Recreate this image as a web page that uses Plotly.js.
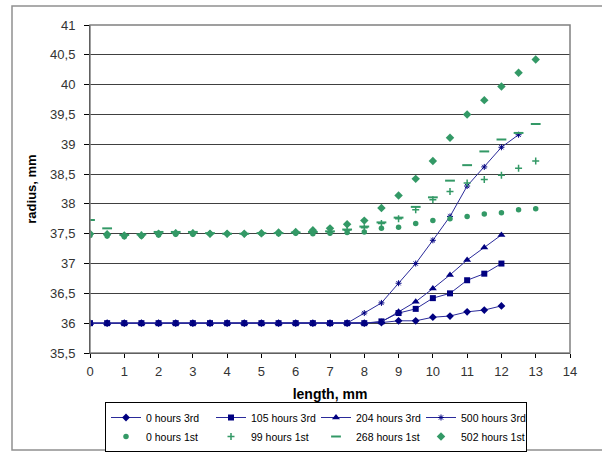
<!DOCTYPE html>
<html><head><meta charset="utf-8">
<script src="https://cdn.plot.ly/plotly-3.0.1.min.js"></script>
<style>html,body{margin:0;padding:0;background:#fff}</style>
</head><body><div id="chart" style="width:602px;height:453px"></div>
<script>
// x positions (mm)
const x3rd = [0,0.5,1,1.5,2,2.5,3,3.5,4,4.5,5,5.5,6,6.5,7,7.5,8,8.5,9,9.5,10,10.5,11,11.5,12];
const x500 = [0,0.5,1,1.5,2,2.5,3,3.5,4,4.5,5,5.5,6,6.5,7,7.5,8,8.5,9,9.5,10,10.5,11,11.5,12,12.5];
const x1st = [0,0.5,1,1.5,2,2.5,3,3.5,4,4.5,5,5.5,6,6.5,7,7.5,8,8.5,9,9.5,10,10.5,11,11.5,12,12.5,13];

// 3rd series (radius, mm)
const h0_3rd   = [36,36,36,36,36,36,36,36,36,36,36,36,36,36,36,36,36,36.01,36.04,36.04,36.1,36.12,36.19,36.22,36.29];
const h105_3rd = [36,36,36,36,36,36,36,36,36,36,36,36,36,36,36,36,36,36.03,36.17,36.24,36.42,36.5,36.72,36.83,37.0];
const h204_3rd = [36,36,36,36,36,36,36,36,36,36,36,36,36,36,36,36,36,36.02,36.19,36.36,36.58,36.81,37.06,37.27,37.48];
const h500_3rd = [36,36,36,36,36,36,36,36,36,36,36,36,36,36,36,36,36.17,36.34,36.67,37.0,37.39,37.79,38.3,38.62,38.95,39.16];

// 1st series (radius, mm)
const h0_1st   = [37.47,37.46,37.45,37.46,37.48,37.49,37.49,37.5,37.5,37.5,37.5,37.5,37.51,37.5,37.51,37.52,37.53,37.59,37.61,37.67,37.72,37.75,37.79,37.83,37.85,37.9,37.92];
const h99_1st  = [37.49,37.48,37.47,37.48,37.5,37.51,37.51,37.5,37.5,37.5,37.5,37.51,37.52,37.52,37.53,37.56,37.6,37.67,37.75,37.9,38.07,38.21,38.35,38.41,38.48,38.6,38.72];
const h268_1st = [37.73,37.59,37.48,37.49,37.53,37.53,37.53,37.51,37.5,37.5,37.51,37.51,37.52,37.53,37.54,37.57,37.62,37.69,37.77,37.95,38.11,38.39,38.65,38.88,39.08,39.19,39.34];
const h502_1st = [37.5,37.49,37.47,37.47,37.5,37.51,37.51,37.5,37.5,37.5,37.51,37.52,37.53,37.56,37.59,37.66,37.72,37.93,38.14,38.42,38.72,39.11,39.5,39.74,39.97,40.2,40.42];

const names = ['0 hours 3rd','105 hours 3rd','204 hours 3rd','500 hours 3rd','0 hours 1st','99 hours 1st','268 hours 1st','502 hours 1st'];

const FONT = 'Liberation Sans, Arial, sans-serif';
const BLUE_LINE = '#2a2a9a';
const NAVY = '#000080';
const GREEN = '#339966';

const traces = [
  {x:x3rd, y:h0_3rd, name:names[0], mode:'lines+markers', line:{color:BLUE_LINE,width:1}, marker:{symbol:'diamond',size:6,color:NAVY}},
  {x:x3rd, y:h105_3rd, name:names[1], mode:'lines+markers', line:{color:BLUE_LINE,width:1}, marker:{symbol:'square',size:6,color:NAVY}},
  {x:x3rd, y:h204_3rd, name:names[2], mode:'lines+markers', line:{color:BLUE_LINE,width:1}, marker:{symbol:'triangle-up',size:7,color:NAVY}},
  {x:x500, y:h500_3rd, name:names[3], mode:'lines+markers', line:{color:BLUE_LINE,width:1}, marker:{symbol:'asterisk-open',size:5,color:NAVY,line:{color:NAVY,width:1}}},
  {x:x1st, y:h0_1st, name:names[4], mode:'markers', marker:{symbol:'circle',size:5.5,color:GREEN}},
  {x:x1st, y:h99_1st, name:names[5], mode:'markers', marker:{symbol:'cross-thin-open',size:5,color:GREEN,line:{color:GREEN,width:1.5}}},
  {x:x1st, y:h268_1st, name:names[6], mode:'markers', marker:{symbol:'line-ew-open',size:7,color:GREEN,line:{color:GREEN,width:2}}},
  {x:x1st, y:h502_1st, name:names[7], mode:'markers', marker:{symbol:'diamond',size:6.5,color:GREEN}}
];

const layout = {
  width:602, height:453,
  margin:{l:90, r:32, t:25, b:100},
  paper_bgcolor:'#fff', plot_bgcolor:'#fff',
  separators:', ',
  font:{family:FONT, size:13, color:'#222'},
  showlegend:true,
  xaxis:{
    range:[0,14], dtick:1, tick0:0, showgrid:false, zeroline:false,
    showline:true, linecolor:'#000', linewidth:1,
    ticks:'outside', ticklen:4, tickcolor:'#000', ticklabelstandoff:2,
    tickfont:{family:FONT,size:13,color:'#333'},
    title:{text:'<b>length, mm</b>', font:{family:FONT,size:14,color:'#000'}, standoff:12}
  },
  yaxis:{
    range:[35.5,41], dtick:0.5, tick0:35.5, showgrid:true, gridcolor:'#404040', gridwidth:1, zeroline:false,
    showline:true, linecolor:'#000', linewidth:1,
    ticks:'outside', ticklen:5, tickcolor:'#000', ticklabelstandoff:6,
    tickfont:{family:FONT,size:13,color:'#333'},
    title:{text:'<b>radius, mm</b>', font:{family:FONT,size:13,color:'#000'}, standoff:10}
  },
  legend:{
    orientation:'h', xref:'container', yref:'container',
    x:105/602, xanchor:'left', y:(453-402)/453, yanchor:'top',
    bordercolor:'#000', borderwidth:1, bgcolor:'#fff',
    font:{family:FONT,size:10.5,color:'#000'},
    itemwidth:30, entrywidth:60, entrywidthmode:'pixels', tracegroupgap:0
  },
  shapes:[
    {type:'rect', xref:'paper', yref:'paper', x0:0, x1:1, y0:0, y1:1, line:{color:'#808080',width:1.5}, layer:'above'},
    {type:'rect', xref:'paper', yref:'paper', x0:-0.1625, x1:1.2, y0:-0.2957, y1:1.0579, line:{color:'#909090',width:1.5}, layer:'above'}
  ]
};

Plotly.newPlot('chart', traces, layout, {displayModeBar:false, staticPlot:true});
</script>
</body></html>
